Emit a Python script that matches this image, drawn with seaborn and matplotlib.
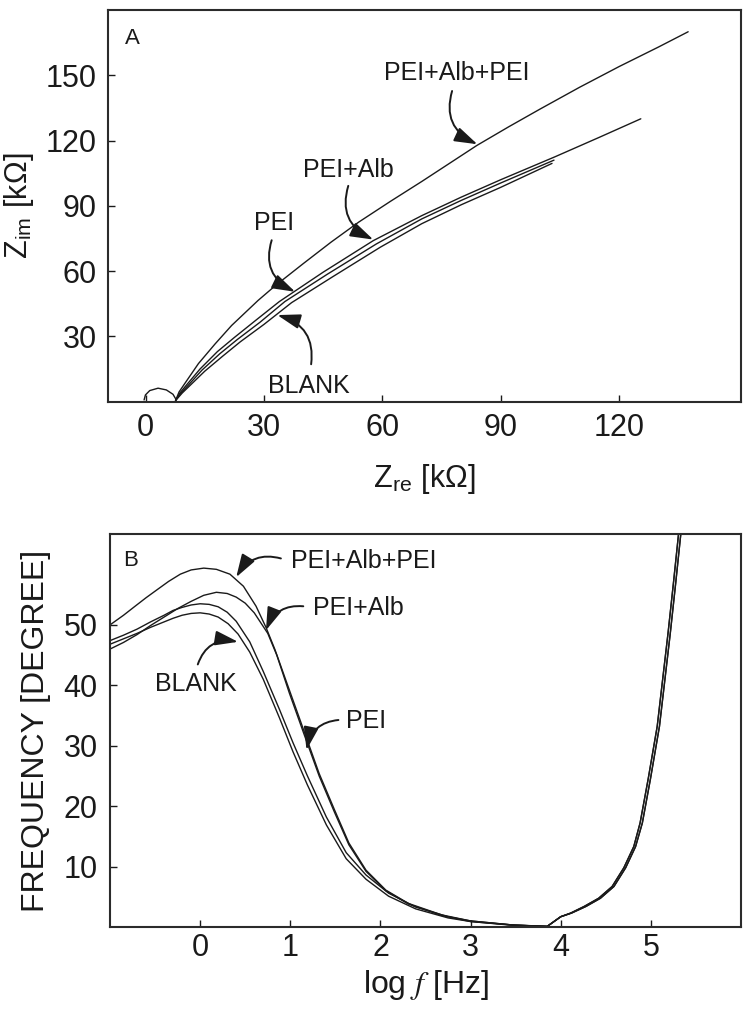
# Impedance spectra: Nyquist plot (A) and Bode phase plot (B)

import matplotlib.pyplot as plt
import seaborn as sns

# --- Panel A: Nyquist data (kOhm) ---
loop_re = [-0.37, -0.03, 1.06, 3.17, 5.27, 6.95, 7.8]
loop_im = [0.8, 3.1, 5.1, 6.2, 5.4, 3.4, 0.8]

blank_re = [7.6, 9.3, 11.3, 15.0, 19.6, 24.0, 30.0, 37.0, 47.5, 59.5, 70.0, 80.0, 90.0, 103.0]
blank_im = [0.5, 4.0, 7.5, 14.0, 21.0, 27.5, 35.5, 45.5, 57.5, 71.0, 81.8, 90.5, 98.5, 109.5]

pei_re = [7.6, 9.0, 10.8, 14.3, 18.8, 23.2, 29.0, 35.3, 46.0, 58.5, 70.0, 80.0, 90.0, 103.5]
pei_im = [0.5, 4.0, 7.5, 14.5, 22.0, 28.5, 36.5, 46.0, 58.5, 72.5, 84.0, 92.5, 100.5, 111.0]

peialb_re = [7.6, 8.7, 10.3, 13.8, 18.2, 22.5, 28.0, 33.9, 45.0, 57.7, 70.0, 80.0, 90.0, 103.7, 115.0, 125.5]
peialb_im = [0.5, 4.0, 7.5, 15.0, 23.0, 29.5, 37.5, 46.0, 59.5, 74.0, 85.5, 94.0, 102.0, 112.5, 121.5, 130.0]

peialbpei_re = [7.6, 8.5, 10.0, 13.4, 17.6, 21.8, 28.5, 33.0, 40.0, 47.0, 54.0, 62.0, 70.0, 77.0, 84.0,
                92.0, 100.0, 110.0, 120.0, 130.0, 137.5]
peialbpei_im = [0.5, 4.5, 8.5, 17.5, 26.5, 35.0, 46.5, 53.5, 63.5, 73.3, 82.5, 92.0, 101.2, 109.5, 117.8,
                126.3, 134.5, 144.5, 154.0, 163.0, 170.0]

# --- Panel B: phase vs log f ---
rise_logf = [4.0, 4.11, 4.26, 4.42, 4.57, 4.70, 4.81, 4.88, 4.97, 5.07, 5.13, 5.19, 5.25, 5.31, 5.36]
rise_logf2 = [4.0, 4.12, 4.28, 4.44, 4.59, 4.72, 4.83, 4.905, 4.995, 5.095, 5.155, 5.215, 5.275, 5.335, 5.385]
rise_deg = [1.7, 2.3, 3.4, 4.75, 6.7, 9.8, 13.3, 17.2, 24.5, 33.2, 40.9, 48.6, 56.9, 65.5, 72.0]

blank_logf = [-1.0, -0.85, -0.7, -0.55, -0.4, -0.3, -0.2, -0.1, 0.0, 0.1, 0.2, 0.31, 0.42, 0.55, 0.70,
              0.88, 1.03, 1.19, 1.40, 1.62, 1.84, 2.09, 2.39, 2.75, 3.0, 3.45, 3.85] + rise_logf
blank_deg = [46.8, 47.7, 48.6, 49.6, 50.5, 51.1, 51.6, 51.9, 52.0, 51.8, 51.3, 50.2, 48.5, 45.5, 41.0,
             34.6, 29.0, 23.5, 16.9, 11.3, 7.9, 5.1, 3.0, 1.5, 0.9, 0.3, 0.1] + rise_deg

pei_logf = [-1.0, -0.85, -0.7, -0.55, -0.4, -0.3, -0.2, -0.1, 0.0, 0.1, 0.2, 0.3, 0.4, 0.55, 0.70,
            0.88, 1.03, 1.19, 1.40, 1.62, 1.84, 2.09, 2.39, 2.75, 3.0, 3.45, 3.85] + rise_logf
pei_deg = [47.4, 48.3, 49.3, 50.5, 51.6, 52.4, 52.9, 53.3, 53.5, 53.4, 53.0, 52.1, 50.6, 47.2, 42.3,
           36.0, 30.5, 25.0, 18.2, 12.3, 8.6, 5.6, 3.3, 1.7, 1.0, 0.35, 0.1] + rise_deg

peialb_logf = [-1.0, -0.85, -0.7, -0.55, -0.4, -0.25, -0.1, 0.04, 0.18, 0.3, 0.4, 0.5, 0.6, 0.75, 0.85,
               0.99, 1.16, 1.32, 1.49, 1.65, 1.84, 2.06, 2.31, 2.68, 3.0, 3.49, 3.85] + rise_logf2
peialb_deg = [46.0, 47.1, 48.4, 49.9, 51.3, 52.7, 53.9, 54.9, 55.4, 55.2, 54.6, 53.6, 52.0, 48.6, 45.0,
              38.7, 31.6, 25.0, 19.0, 13.6, 9.2, 6.0, 3.8, 1.9, 0.9, 0.3, 0.1] + rise_deg

peialbpei_logf = [-1.0, -0.85, -0.73, -0.6, -0.48, -0.35, -0.22, -0.1, 0.04, 0.18, 0.33, 0.48, 0.62,
                  0.73, 0.83, 0.99, 1.16, 1.32, 1.49, 1.65, 1.84, 2.06, 2.31, 2.68, 3.0, 3.49, 3.85] + rise_logf2
peialbpei_deg = [50.0, 51.6, 53.0, 54.5, 55.8, 57.2, 58.4, 59.1, 59.4, 59.2, 58.4, 56.4, 53.1,
                 49.6, 45.9, 39.2, 32.1, 25.4, 19.4, 13.9, 9.4, 6.1, 3.9, 2.0, 1.0, 0.3, 0.1] + rise_deg

sns.set_theme(style='ticks')
plt.rcParams['font.family'] = ['Liberation Sans', 'DejaVu Sans']
plt.rcParams['mathtext.fontset'] = 'stix'

ink = '#1a1a1a'
line_kw = dict(color=ink, linewidth=1.0, sort=False, estimator=None)
arrow_kw = dict(arrowstyle='-|>,head_length=1.4,head_width=0.45', color=ink, lw=1.4,
                mutation_scale=10, shrinkA=3, shrinkB=0)

fig = plt.figure(figsize=(7.54, 10.10), dpi=100)
ax1 = fig.add_axes([0.1428, 0.6023, 0.84, 0.3878])
ax2 = fig.add_axes([0.1459, 0.0822, 0.8369, 0.3888])

# Panel A
sns.lineplot(x=loop_re, y=loop_im, ax=ax1, **line_kw)
for re, im in [(blank_re, blank_im), (pei_re, pei_im), (peialb_re, peialb_im), (peialbpei_re, peialbpei_im)]:
    sns.lineplot(x=re, y=im, ax=ax1, **line_kw)

ax1.set_xlim(-9.6, 150.9)
ax1.set_ylim(0, 180)
ax1.set_xticks([0, 30, 60, 90, 120])
ax1.set_yticks([30, 60, 90, 120, 150])
ax1.set_xlabel(r'Z$_\mathregular{re}$ [k$\mathregular{\Omega}$]', fontsize=22, labelpad=14)
ax1.set_ylabel(r'Z$_\mathregular{im}$ [k$\mathregular{\Omega}$]', fontsize=22, labelpad=7)
ax1.tick_params(axis='x', pad=8)
ax1.tick_params(axis='y', pad=8)
ax1.text(0.027, 0.955, 'A', transform=ax1.transAxes, fontsize=16, va='top', ha='left', color=ink)

labels_a = [
    ('PEI+Alb+PEI', (78.9, 151), (78.0, 144.6), (84.1, 118.3), 0.45),
    ('PEI+Alb', (51.3, 106.4), (51.7, 101), (57.7, 74.5), 0.45),
    ('PEI', (32.6, 82), (32.3, 76), (37.9, 50.5), 0.45),
    ('BLANK', (41.3, 7.3), (41.8, 15.3), (33.4, 39.8), 0.45),
]
for txt, pos, start, tip, rad in labels_a:
    ax1.text(pos[0], pos[1], txt, fontsize=18, ha='center', va='center', color=ink)
    ax1.annotate('', xy=tip, xytext=start,
                 arrowprops=dict(connectionstyle=f'arc3,rad={rad}', **arrow_kw))

# Panel B
for lf, deg in [(blank_logf, blank_deg), (pei_logf, pei_deg), (peialb_logf, peialb_deg),
                (peialbpei_logf, peialbpei_deg)]:
    sns.lineplot(x=lf, y=deg, ax=ax2, **line_kw)

ax2.set_xlim(-1, 6)
ax2.set_ylim(0, 65)
ax2.set_xticks([0, 1, 2, 3, 4, 5])
ax2.set_yticks([10, 20, 30, 40, 50])
ax2.set_xlabel(r'log $f$ [Hz]', fontsize=23, labelpad=4)
ax2.set_ylabel('FREQUENCY [DEGREE]', fontsize=23, labelpad=9)
ax2.tick_params(axis='x', pad=4)
ax2.tick_params(axis='y', pad=9)
ax2.text(0.021, 0.96, 'B', transform=ax2.transAxes, fontsize=16, va='top', ha='left', color=ink)

labels_b = [
    ('PEI+Alb+PEI', (1.82, 60.5), (0.94, 60.8), (0.40, 57.9), 0.4),
    ('PEI+Alb', (1.75, 52.8), (1.19, 53.0), (0.73, 49.1), 0.4),
    ('PEI', (1.84, 34.1), (1.58, 34.3), (1.18, 29.3), 0.4),
    ('BLANK', (-0.05, 40.2), (-0.04, 42.8), (0.42, 47.2), -0.45),
]
for txt, pos, start, tip, rad in labels_b:
    ax2.text(pos[0], pos[1], txt, fontsize=18, ha='center', va='center', color=ink)
    ax2.annotate('', xy=tip, xytext=start,
                 arrowprops=dict(connectionstyle=f'arc3,rad={rad}', **arrow_kw))

for ax in (ax1, ax2):
    ax.tick_params(direction='in', length=5, width=1.0, labelsize=22, colors=ink,
                   top=False, right=False)
    for s in ax.spines.values():
        s.set_linewidth(1.5)
        s.set_color('#2b2b2b')
    ax.xaxis.label.set_color(ink)
    ax.yaxis.label.set_color(ink)

fig.savefig('out.png', dpi=100)
